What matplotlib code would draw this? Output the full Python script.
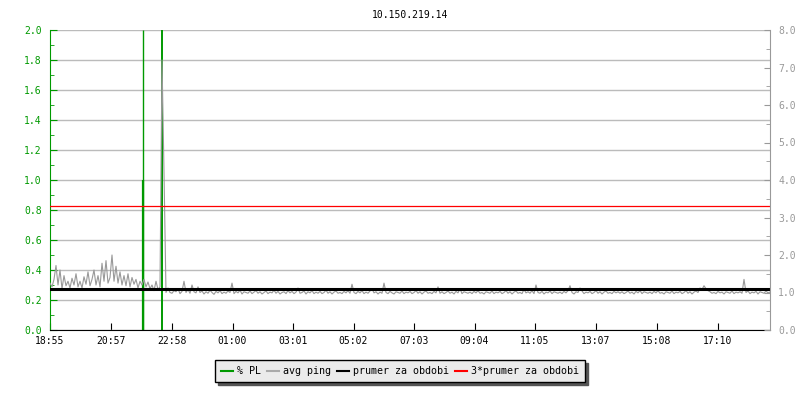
import matplotlib
matplotlib.use("Agg")
import numpy as np
import matplotlib.pyplot as plt
from matplotlib.lines import Line2D

plt.rcParams['font.family'] = ['DejaVu Sans Mono']
plt.rcParams['font.size'] = 7

title = '10.150.219.14'
tick_labels = ['18:55', '20:57', '22:58', '01:00', '03:01', '05:02',
               '07:03', '09:04', '11:05', '13:07', '15:08', '17:10']

# avg ping in ms, one sample every 4 minutes starting 18:55
ping = [
    1.25, 1.15, 1.35, 1.72, 1.20, 1.60, 1.10, 1.45, 1.18, 1.30, 1.12, 1.38, 1.20, 1.50, 1.15,
    1.30, 1.12, 1.42, 1.22, 1.55, 1.18, 1.35, 1.60, 1.20, 1.45, 1.15, 1.78, 1.30, 1.85, 1.25,
    1.40, 2.00, 1.30, 1.70, 1.25, 1.55, 1.20, 1.45, 1.18, 1.50, 1.15, 1.40, 1.22, 1.35, 1.12,
    1.30, 1.20, 1.35, 1.15, 1.28, 1.10, 1.20, 1.05, 1.30, 1.08, 1.15, 7.20, 4.20, 1.00, 1.12,
    1.00, 0.98, 1.05, 1.02, 1.10, 0.97, 1.03, 1.30, 1.00, 1.08, 0.98, 1.20, 1.02, 0.99, 1.15,
    1.00, 1.04, 0.96, 1.02, 0.98, 1.06, 1.00, 0.95, 1.03, 0.99, 1.05, 0.97, 1.01, 0.98, 1.04,
    1.00, 1.25, 0.97, 1.03, 0.99, 1.06, 0.96, 1.02, 1.00, 0.98, 1.04, 0.97, 1.01, 1.05, 0.98,
    1.02, 0.96, 1.00, 1.04, 0.97, 1.01, 0.99, 1.06, 0.98, 1.03, 0.96, 1.00, 1.02, 0.97, 1.05,
    0.99, 1.03, 0.97, 1.01, 1.12, 0.98, 1.00, 1.04, 0.96, 1.02, 0.99, 1.05, 0.97, 1.01, 0.98,
    1.03, 0.97, 1.00, 1.06, 0.98, 1.02, 0.96, 1.01, 1.04, 0.98, 1.00, 0.97, 1.03, 0.99, 1.05,
    0.98, 1.22, 1.00, 0.97, 1.03, 0.99, 1.05, 0.97, 1.01, 0.98, 1.04, 1.10, 0.99, 1.02, 0.96,
    1.01, 0.98, 1.25, 1.00, 0.97, 1.03, 0.99, 0.96, 1.02, 1.00, 0.98, 1.04, 0.97, 1.01, 0.99,
    1.03, 0.97, 1.00, 1.05, 0.98, 1.02, 0.96, 1.01, 1.04, 0.98, 1.00, 0.97, 1.03, 0.99, 1.15,
    0.98, 1.02, 0.97, 1.00, 1.04, 0.98, 1.01, 0.96, 1.03, 0.99, 1.10, 0.97, 1.02, 1.00, 0.98,
    1.01, 0.97, 1.03, 0.99, 1.05, 0.98, 1.00, 0.96, 1.02, 1.00, 0.98, 1.04, 0.97, 1.01, 0.99,
    1.03, 0.97, 1.00, 1.05, 0.98, 1.02, 0.96, 1.01, 1.04, 0.98, 1.00, 0.97, 1.08, 0.99, 1.02,
    0.98, 1.05, 0.97, 1.20, 1.00, 0.98, 1.03, 0.96, 1.01, 0.99, 1.04, 0.97, 1.02, 1.00, 0.98,
    1.01, 0.97, 1.03, 0.99, 1.05, 1.18, 1.00, 0.96, 1.02, 1.00, 1.12, 1.04, 0.97, 1.01, 0.99,
    1.03, 0.97, 1.00, 1.05, 0.98, 1.02, 0.96, 1.01, 1.04, 0.98, 1.00, 0.97, 1.03, 0.99, 1.02,
    0.98, 1.02, 0.97, 1.00, 1.04, 0.98, 1.01, 0.96, 1.03, 0.99, 1.05, 0.97, 1.02, 1.00, 0.98,
    1.01, 0.97, 1.03, 0.99, 1.05, 0.98, 1.00, 0.96, 1.02, 1.00, 0.98, 1.04, 0.97, 1.01, 0.99,
    1.03, 0.97, 1.00, 1.05, 0.98, 1.02, 0.96, 1.01, 1.04, 1.00, 1.12, 1.08, 1.18, 1.10, 1.05,
    1.02, 0.98, 1.00, 0.97, 1.03, 0.99, 1.01, 0.96, 1.02, 1.00, 0.98, 1.04, 0.97, 1.01, 0.99,
    1.02, 0.98, 1.35, 1.00, 1.04, 0.97, 1.01, 0.99, 1.03, 0.96, 1.02, 1.00, 0.98, 1.04, 0.99,
    1.01,
]
ping_step = 4  # minutes between samples

# packet loss events (minutes from 18:55, value)
pl_times = [185, 186.5, 223]
pl_values = [1.0, 2.0, 2.0]

avg_ping = 1.1  # prumer za obdobi (ms)

times = np.arange(len(ping)) * ping_step


def to_minutes(label, start='18:55'):
    h, m = map(int, label.split(':'))
    h0, m0 = map(int, start.split(':'))
    return ((h * 60 + m) - (h0 * 60 + m0)) % 1440


tick_pos = [to_minutes(t) for t in tick_labels]

green = '#009900'
grey = '#999999'

fig = plt.figure(figsize=(8, 4), dpi=100)
ax = fig.add_axes([0.0625, 0.175, 0.9, 0.75])
ax2 = ax.twinx()

# left axis: packet loss
ax.set_ylim(0, 2.0)
ax.set_xlim(0, 1440)
ax.set_yticks(np.arange(0, 2.01, 0.2))
ax.set_yticks(np.arange(0, 2.01, 0.1), minor=True)
ax.set_yticklabels(['%.1f' % v for v in np.arange(0, 2.01, 0.2)])
ax.grid(axis='y', color='#bbbbbb', lw=1)
ax.set_axisbelow(True)
ax.vlines(pl_times, 0, pl_values, color=green, linewidths=[1.6, 1.0, 1.4])
ax.tick_params(axis='y', which='both', direction='in', colors=green, pad=6)
ax.tick_params(axis='y', which='major', length=5)
ax.tick_params(axis='y', which='minor', length=3)
ax.set_xticks(tick_pos)
ax.set_xticklabels(tick_labels)
ax.tick_params(axis='x', direction='in', length=5, color='black', pad=4)
for s in ['top', 'right']:
    ax.spines[s].set_visible(False)
ax.spines['left'].set_color(green)
ax.spines['bottom'].set_color('black')

# right axis: ping
ax2.set_ylim(0, 8.0)
ax2.set_yticks(np.arange(0, 8.01, 1.0))
ax2.set_yticks(np.arange(0, 8.01, 0.5), minor=True)
ax2.set_yticklabels(['%.1f' % v for v in np.arange(0, 8.01, 1.0)])
ax2.plot(times, ping, color=grey, lw=0.8)
ax2.axhline(avg_ping, color='black', lw=2.2)
ax2.axhline(3 * avg_ping, color='red', lw=0.9)
ax2.tick_params(axis='y', which='both', direction='in', colors=grey, pad=6)
ax2.tick_params(axis='y', which='major', length=4)
ax2.tick_params(axis='y', which='minor', length=3)
for s in ['top', 'left', 'bottom']:
    ax2.spines[s].set_visible(False)
ax2.spines['right'].set_color(grey)

ax.set_title(title, fontsize=7, pad=9)

handles = [Line2D([], [], color=green, lw=1.5),
           Line2D([], [], color='#aaaaaa', lw=1.5),
           Line2D([], [], color='black', lw=1.5),
           Line2D([], [], color='red', lw=1.5)]
names = ['% PL', 'avg ping', 'prumer za obdobi', '3*prumer za obdobi']
leg = fig.legend(handles, names, loc='center', bbox_to_anchor=(0.5, 0.0725),
                 ncol=4, frameon=True, fancybox=False,
                 shadow={'color': '#555555', 'alpha': 1},
                 handlelength=1.2, handletextpad=0.4, columnspacing=0.6,
                 borderpad=0.6, fontsize=7.2)
leg.get_frame().set_facecolor('#ebebeb')
leg.get_frame().set_edgecolor('black')
leg.get_frame().set_linewidth(1)
leg.get_frame().set_alpha(1)

fig.savefig('out.png', dpi=100)
